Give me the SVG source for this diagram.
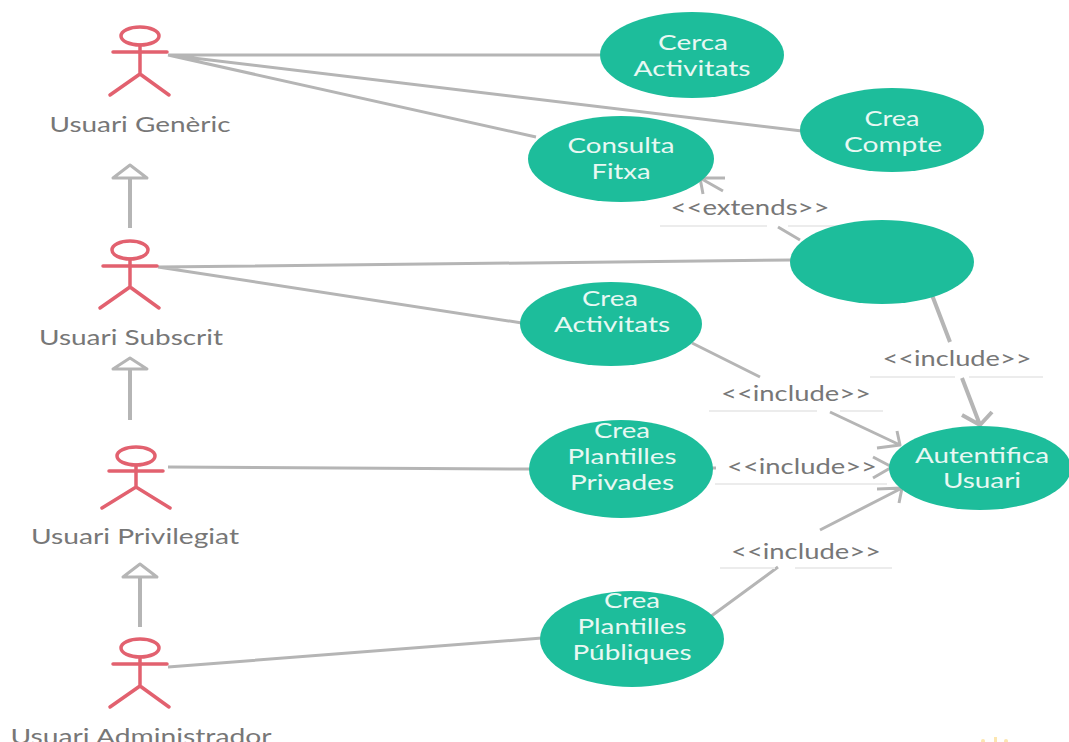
<svg xmlns="http://www.w3.org/2000/svg" width="1069" height="742" viewBox="0 0 1069 742">
<style>
.a{fill:none;stroke:#e2616f;stroke-width:3.5;stroke-linecap:round}
.c{fill:none;stroke:#b5b5b5;stroke-width:3;stroke-linecap:butt;stroke-linejoin:round}
.t{stroke-width:4}
.f{fill:none;stroke:#ececec;stroke-width:2}
.u{fill:#1dbd9b}
text{font-family:Lato,"Liberation Sans",sans-serif;font-size:21px;text-anchor:middle}
.l{fill:#777}
.w{fill:#e8f8f3}
</style>
<rect width="1069" height="742" fill="#fff"/>
<g id="connectors">
<path class="c" d="M168 55H600M168 55L802 131M168 55L536 137M158 267L792 260M158 267L522 323M168 467L530 469M168 667L542 638"/>
<path class="c" d="M800 240L778 227M723 191L700 178M700 178L725 178M700 178L703 194"/>
<path class="c t" d="M932 295L950 342M962 378L980 425M962 415L980 425L992 412"/>
<path class="c" d="M692 343L760 377M830 412L900 445M877 448L900 445L897 431"/>
<path class="c" d="M710 468H716M873 457L892 467L873 478"/>
<path class="c" d="M710 617L778 567M820 530L902 488M877 489L902 488L899 503"/>
<path class="c" d="M113 178L130 165L147 178Z"/>
<path class="c t" d="M130 228V178"/>
<path class="c" d="M113 369L130 358L147 369Z"/>
<path class="c t" d="M130 420V369"/>
<path class="c" d="M123 577L140 564L157 577Z"/>
<path class="c t" d="M140 627V577"/>
<path class="f" d="M660 226H767M788 226H840M870 377H955M969 377H1043M709 411H817M840 411H883M715 484H887M720 568H775M795 568H892"/>
</g>
<g id="actor-generic"><ellipse class="a" cx="140" cy="36" rx="19" ry="9"/><path class="a" d="M113 52H167M140 45V74M110 95L140 74L169 95"/><text class="l" x="140" y="132" textLength="181" lengthAdjust="spacingAndGlyphs">Usuari Genèric</text></g>
<g id="actor-subscrit"><ellipse class="a" cx="130" cy="250" rx="18" ry="9"/><path class="a" d="M103 266H157M130 259V287M100 308L130 287L159 308"/><text class="l" x="131" y="345" textLength="184" lengthAdjust="spacingAndGlyphs">Usuari Subscrit</text></g>
<g id="actor-privilegiat"><ellipse class="a" cx="136" cy="456" rx="19" ry="9"/><path class="a" d="M109 471H163M136 465V487M102 508L136 487L170 508"/><text class="l" x="135" y="544" textLength="208" lengthAdjust="spacingAndGlyphs">Usuari Privilegiat</text></g>
<g id="actor-administrador"><ellipse class="a" cx="140" cy="648" rx="19" ry="9"/><path class="a" d="M113 664H167M140 657V686M110 707L140 686L169 707"/><text class="l" x="141" y="744" textLength="261" lengthAdjust="spacingAndGlyphs">Usuari Administrador</text></g>
<g id="uc-cerca"><ellipse class="u" cx="692" cy="55" rx="92" ry="43"/><text class="w" x="693" y="50" textLength="70" lengthAdjust="spacingAndGlyphs">Cerca</text><text class="w" x="692" y="76" textLength="117" lengthAdjust="spacingAndGlyphs">Activitats</text></g>
<g id="uc-compte"><ellipse class="u" cx="892" cy="130" rx="92" ry="42"/><text class="w" x="892" y="126" textLength="55" lengthAdjust="spacingAndGlyphs">Crea</text><text class="w" x="893" y="152" textLength="98" lengthAdjust="spacingAndGlyphs">Compte</text></g>
<g id="uc-consulta"><ellipse class="u" cx="621" cy="159" rx="93" ry="43"/><text class="w" x="621" y="153" textLength="107" lengthAdjust="spacingAndGlyphs">Consulta</text><text class="w" x="621" y="179" textLength="59" lengthAdjust="spacingAndGlyphs">Fitxa</text></g>
<g id="uc-blank"><ellipse class="u" cx="882" cy="262" rx="92" ry="42"/></g>
<g id="uc-activitats"><ellipse class="u" cx="611" cy="324" rx="91" ry="42"/><text class="w" x="610" y="306" textLength="56" lengthAdjust="spacingAndGlyphs">Crea</text><text class="w" x="612" y="332" textLength="116" lengthAdjust="spacingAndGlyphs">Activitats</text></g>
<g id="uc-privades"><ellipse class="u" cx="621" cy="469" rx="92" ry="49"/><text class="w" x="622" y="438" textLength="56" lengthAdjust="spacingAndGlyphs">Crea</text><text class="w" x="622" y="464" textLength="109" lengthAdjust="spacingAndGlyphs">Plantilles</text><text class="w" x="622" y="490" textLength="104" lengthAdjust="spacingAndGlyphs">Privades</text></g>
<g id="uc-autentifica"><ellipse class="u" cx="980" cy="468" rx="91" ry="42"/><text class="w" x="982" y="463" textLength="134" lengthAdjust="spacingAndGlyphs">Autentifica</text><text class="w" x="982" y="488" textLength="78" lengthAdjust="spacingAndGlyphs">Usuari</text></g>
<g id="uc-publiques"><ellipse class="u" cx="632" cy="639" rx="92" ry="48"/><text class="w" x="632" y="608" textLength="56" lengthAdjust="spacingAndGlyphs">Crea</text><text class="w" x="632" y="634" textLength="109" lengthAdjust="spacingAndGlyphs">Plantilles</text><text class="w" x="632" y="660" textLength="119" lengthAdjust="spacingAndGlyphs">Públiques</text></g>
<g id="labels">
<text class="l" x="750" y="215" textLength="159" lengthAdjust="spacingAndGlyphs">&lt;&lt;extends&gt;&gt;</text>
<text class="l" x="957" y="366" textLength="149" lengthAdjust="spacingAndGlyphs">&lt;&lt;include&gt;&gt;</text>
<text class="l" x="796" y="401" textLength="150" lengthAdjust="spacingAndGlyphs">&lt;&lt;include&gt;&gt;</text>
<text class="l" x="802" y="474" textLength="150" lengthAdjust="spacingAndGlyphs">&lt;&lt;include&gt;&gt;</text>
<text class="l" x="806" y="559" textLength="150" lengthAdjust="spacingAndGlyphs">&lt;&lt;include&gt;&gt;</text>
</g>
<g id="mark" fill="#fce6b0"><rect x="994" y="737" width="3" height="5"/><circle cx="983" cy="741" r="2"/><circle cx="1006" cy="741" r="2"/></g>
</svg>
